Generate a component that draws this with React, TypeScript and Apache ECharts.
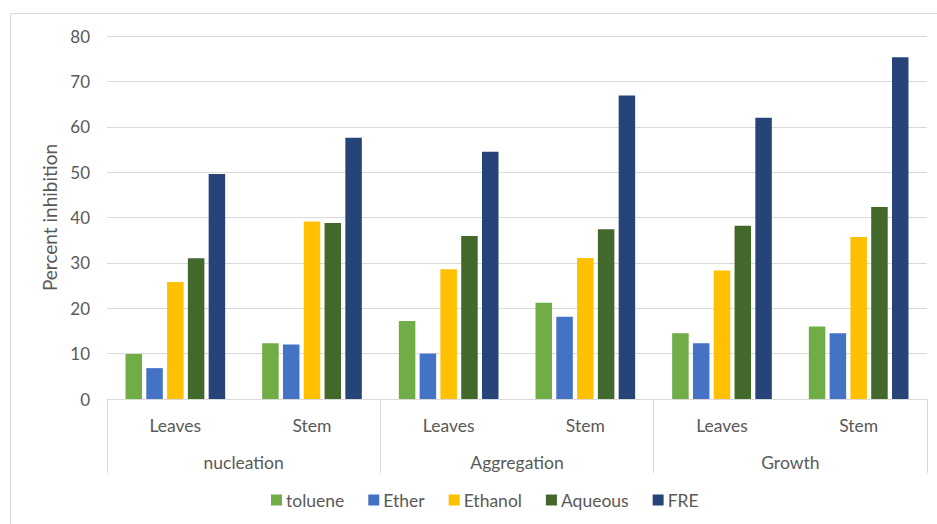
import React, { useEffect, useRef } from "react";
import * as echarts from "echarts";

const subCategories = ["Leaves", "Stem", "Leaves", "Stem", "Leaves", "Stem"];
const groups = ["nucleation", "Aggregation", "Growth"];
const seriesNames = ["toluene", "Ether", "Ethanol", "Aqueous", "FRE"];
const colors = ["#70AD47", "#4472C4", "#FFC000", "#43682B", "#264478"];

const toluene = [9.9, 12.3, 17.2, 21.2, 14.5, 16.0];
const ether = [6.8, 12.0, 10.0, 18.1, 12.3, 14.5];
const ethanol = [25.8, 39.1, 28.6, 31.1, 28.3, 35.7];
const aqueous = [31.0, 38.8, 35.9, 37.4, 38.2, 42.3];
const fre = [49.6, 57.6, 54.5, 66.9, 62.0, 75.3];

const yTicks = { min: 0, max: 80, interval: 10 };

const FONT = "Lato";
const TEXT = "#595959";
const LINE = "#d9d9d9";

export default function App() {
  const ref = useRef<HTMLDivElement>(null);
  useEffect(() => {
    if (!ref.current) return;
    const chart = echarts.init(ref.current, undefined, { renderer: "svg" });
    const values = [toluene, ether, ethanol, aqueous, fre];
    chart.setOption({
      animation: false,
      backgroundColor: "#ffffff",
      textStyle: { fontFamily: FONT },
      graphic: [
        {
          type: "rect",
          shape: { x: 10.5, y: 13.5, width: 940, height: 530 },
          style: { fill: "none", stroke: LINE, lineWidth: 1 },
          silent: true,
        },
      ],
      grid: { left: 107, right: 10, top: 36, bottom: 125, containLabel: false },
      legend: {
        bottom: 10,
        left: 266,
        itemWidth: 11,
        itemHeight: 11,
        itemGap: 24,
        icon: "rect",
        textStyle: { color: TEXT, fontSize: 17.5, fontFamily: FONT, padding: [0, 0, 0, -1] },
        data: seriesNames,
      },
      xAxis: [
        {
          type: "category",
          data: subCategories,
          position: "bottom",
          axisLine: { show: true, lineStyle: { color: LINE, width: 1 } },
          axisTick: { show: false },
          axisLabel: { color: TEXT, fontSize: 17.5, fontFamily: FONT, margin: 17, interval: 0 },
        },
        {
          type: "category",
          data: groups,
          position: "bottom",
          axisLine: { show: false },
          axisTick: { show: true, length: 74, interval: 0, lineStyle: { color: LINE, width: 1 } },
          axisLabel: { color: TEXT, fontSize: 17.5, fontFamily: FONT, margin: 54, interval: 0 },
        },
      ],
      yAxis: {
        type: "value",
        min: yTicks.min,
        max: yTicks.max,
        interval: yTicks.interval,
        name: "Percent inhibition",
        nameLocation: "middle",
        nameGap: 48,
        nameTextStyle: { color: TEXT, fontSize: 19, fontFamily: FONT },
        axisLine: { show: false },
        axisTick: { show: false },
        axisLabel: { color: TEXT, fontSize: 17, fontFamily: FONT, margin: 17 },
        splitLine: { lineStyle: { color: LINE, width: 1 } },
      },
      series: seriesNames.map((name, i) => ({
        name,
        type: "bar",
        xAxisIndex: 0,
        data: values[i],
        barWidth: 16.5,
        barGap: "26%",
        itemStyle: { color: colors[i] },
      })),
    });
    return () => chart.dispose();
  }, []);
  return (
    <div
      ref={ref}
      style={{ position: "fixed", left: 0, top: 0, width: 937, height: 524, background: "#fff" }}
    />
  );
}
